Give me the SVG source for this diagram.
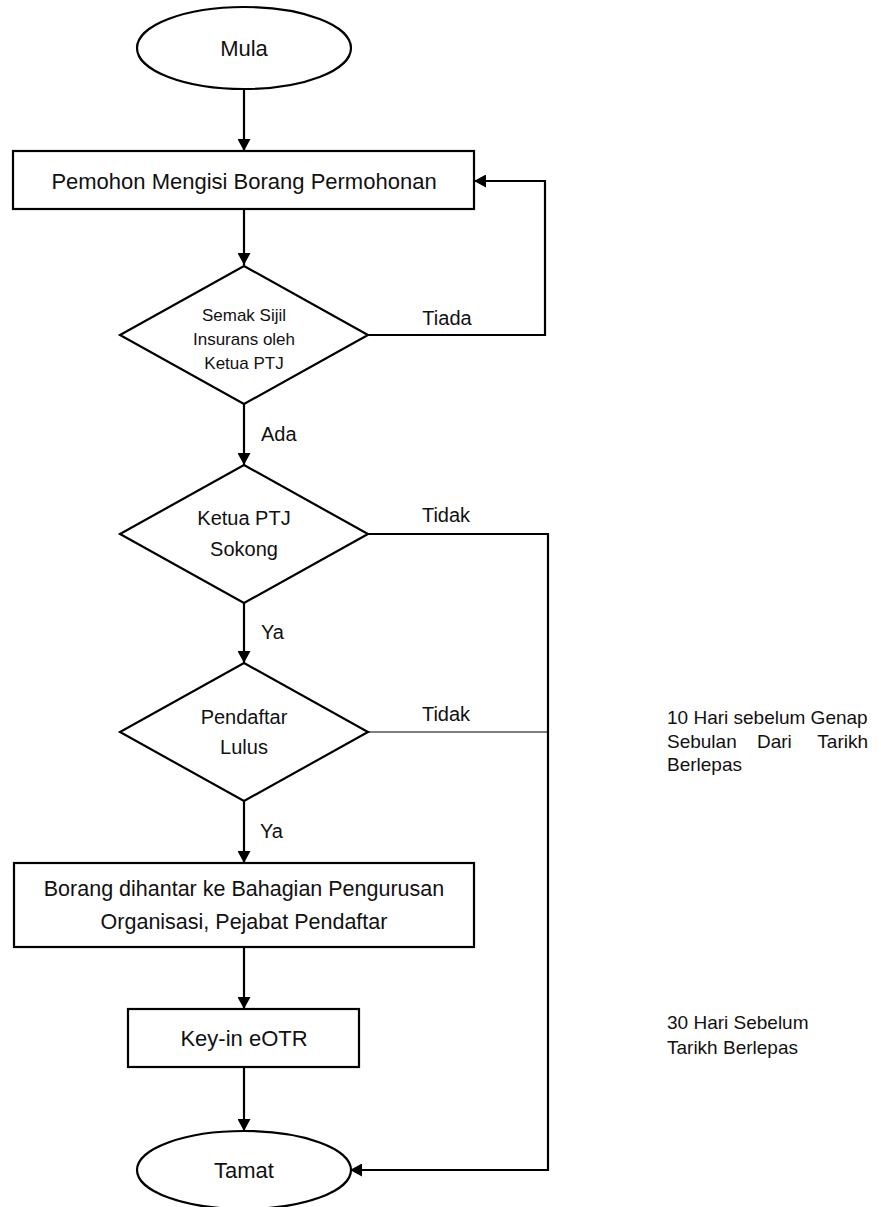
<svg xmlns="http://www.w3.org/2000/svg" width="881" height="1207" viewBox="0 0 881 1207">
<style>
.shape{fill:#fff;stroke:#000;stroke-width:2.2}
.conn{fill:none;stroke:#000;stroke-width:2.2}
.thin{fill:none;stroke:#000;stroke-width:1.2}
text{font-family:"Liberation Sans",Arial,sans-serif;fill:#111;dominant-baseline:central}
.t{font-size:22px;text-anchor:middle}
.t2{font-size:21.5px;text-anchor:middle}
.d{font-size:20px;text-anchor:middle}
.s{font-size:17px;text-anchor:middle}
.lb{font-size:20px}
.an{font-size:19px}
</style>
<defs>
<marker id="arr" markerUnits="userSpaceOnUse" markerWidth="13" markerHeight="13" refX="12" refY="6.5" orient="auto">
<path d="M0,0 L12,6.5 L0,13 z" fill="#000"/>
</marker>
</defs>
<rect width="881" height="1207" fill="#fff"/>
<g id="connectors">
<path class="conn" d="M244,89 V151" marker-end="url(#arr)"/>
<path class="conn" d="M244,209 V265" marker-end="url(#arr)"/>
<path class="conn" d="M368,335 H545 V181 H474" marker-end="url(#arr)"/>
<path class="conn" d="M244,404 V465" marker-end="url(#arr)"/>
<path class="conn" d="M244,603 V663" marker-end="url(#arr)"/>
<path class="conn" d="M368,534 H548 V1170 H350" marker-end="url(#arr)"/>
<path class="thin" d="M368,732 H548"/>
<path class="conn" d="M244,801 V863" marker-end="url(#arr)"/>
<path class="conn" d="M244,947 V1009" marker-end="url(#arr)"/>
<path class="conn" d="M244,1067 V1131" marker-end="url(#arr)"/>
<text class="lb" x="447" y="318" text-anchor="middle">Tiada</text>
<text class="lb" x="261" y="434">Ada</text>
<text class="lb" x="446" y="515" text-anchor="middle">Tidak</text>
<text class="lb" x="261" y="632">Ya</text>
<text class="lb" x="446" y="714" text-anchor="middle">Tidak</text>
<text class="lb" x="260" y="831">Ya</text>
</g>
<g id="mula">
<ellipse class="shape" cx="244" cy="48" rx="107" ry="41"/>
<text class="t" x="244" y="48">Mula</text>
</g>
<g id="pemohon">
<rect class="shape" x="13" y="151" width="461" height="58"/>
<text class="t" x="244" y="181">Pemohon Mengisi Borang Permohonan</text>
</g>
<g id="semak">
<polygon class="shape" points="244,266 368,335 244,404 120,335"/>
<text class="s" x="244" y="315">Semak Sijil</text>
<text class="s" x="244" y="339">Insurans oleh</text>
<text class="s" x="244" y="363">Ketua PTJ</text>
</g>
<g id="sokong">
<polygon class="shape" points="244,465 368,534 244,603 120,534"/>
<text class="d" x="244" y="518">Ketua PTJ</text>
<text class="d" x="244" y="549">Sokong</text>
</g>
<g id="lulus">
<polygon class="shape" points="244,663 368,732 244,801 120,732"/>
<text class="d" x="244" y="717">Pendaftar</text>
<text class="d" x="244" y="747">Lulus</text>
</g>
<g id="borang">
<rect class="shape" x="14" y="863" width="460" height="84"/>
<text class="t2" x="244" y="889">Borang dihantar ke Bahagian Pengurusan</text>
<text class="t2" x="244" y="922">Organisasi, Pejabat Pendaftar</text>
</g>
<g id="keyin">
<rect class="shape" x="128" y="1009" width="231" height="58"/>
<text class="t" x="244" y="1038">Key-in eOTR</text>
</g>
<g id="tamat">
<ellipse class="shape" cx="244" cy="1170" rx="107" ry="39"/>
<text class="t" x="244" y="1170">Tamat</text>
</g>
<g id="note1">
<text class="an" x="667" y="717">10 Hari sebelum Genap</text>
<text class="an" x="667" y="741">Sebulan</text>
<text class="an" x="757" y="741">Dari</text>
<text class="an" x="868" y="741" text-anchor="end">Tarikh</text>
<text class="an" x="667" y="764">Berlepas</text>
</g>
<g id="note2">
<text class="an" x="667" y="1022">30 Hari Sebelum</text>
<text class="an" x="667" y="1047">Tarikh Berlepas</text>
</g>
</svg>
